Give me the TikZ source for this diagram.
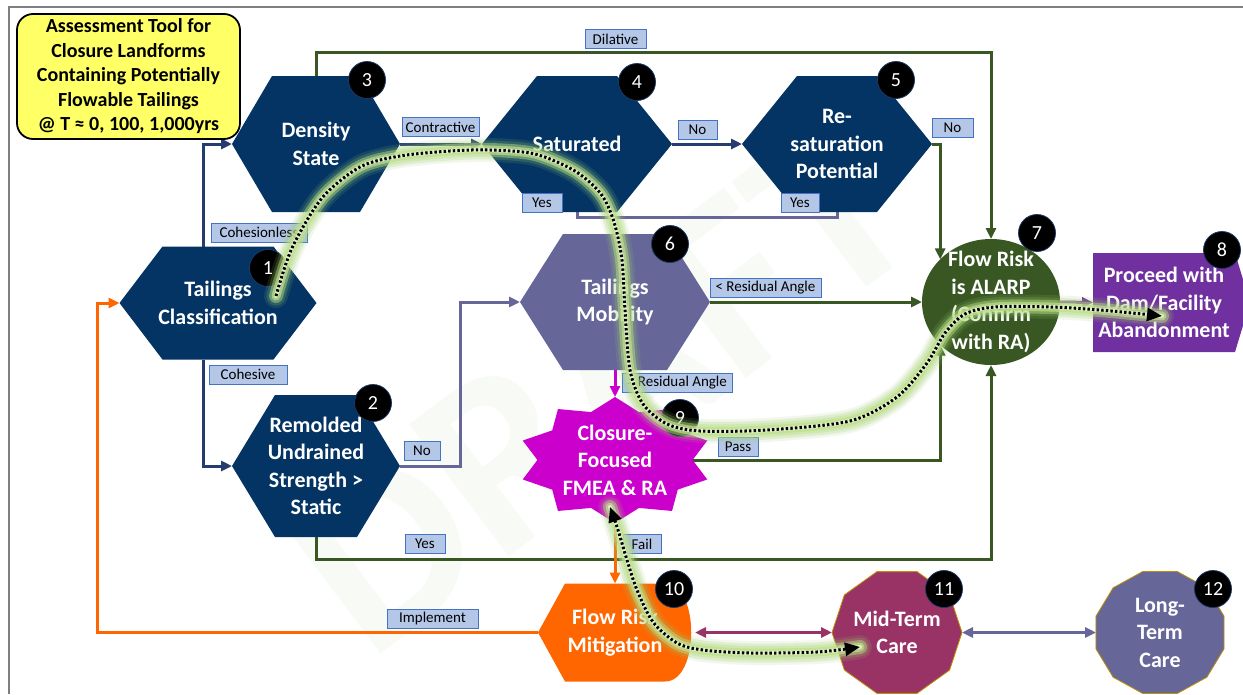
\documentclass[tikz,border=0pt]{standalone}
\usepackage{fontspec}
\setmainfont{Carlito}
\usetikzlibrary{arrows.meta,calc,shapes.geometric}

\definecolor{navyfill}{RGB}{4,52,100}
\definecolor{navyline}{RGB}{38,60,110}
\definecolor{leaf}{RGB}{56,87,35}
\definecolor{slate}{RGB}{102,102,153}
\definecolor{magen}{RGB}{204,0,204}
\definecolor{orng}{RGB}{255,102,0}
\definecolor{plum}{RGB}{112,48,160}
\definecolor{wine}{RGB}{153,51,102}
\definecolor{lblfill}{RGB}{180,199,231}
\definecolor{lbledge}{RGB}{68,114,196}
\definecolor{titlefill}{RGB}{255,255,102}
\definecolor{framegray}{RGB}{127,127,127}
\definecolor{gold}{RGB}{191,144,0}
\definecolor{glowA}{RGB}{150,200,100}
\definecolor{glowB}{RGB}{190,225,140}
\definecolor{glowC}{RGB}{232,245,210}
\definecolor{wmgreen}{RGB}{248,251,245}
\definecolor{badgeedge}{RGB}{31,56,100}

\pgfdeclarelayer{wm}
\pgfdeclarelayer{lines}
\pgfdeclarelayer{shapes}
\pgfdeclarelayer{glow}
\pgfsetlayers{wm,lines,shapes,main,glow}

% hexagon body filling the box of a text node: #1 node, #2 corner inset, #3 colour
\newcommand\hexbody[3]{%
  \fill[#3] (#1.west) -- ([xshift=#2pt]#1.north west) -- ([xshift=-#2pt]#1.north east)
    -- (#1.east) -- ([xshift=-#2pt]#1.south east) -- ([xshift=#2pt]#1.south west) -- cycle;}

\begin{document}
\begin{tikzpicture}[x=1pt, y=-1pt, >={Triangle[length=11pt,width=10pt]},
  every node/.append style={outer sep=0pt},
  nodetxt/.style={rectangle, inner sep=0pt, text=white, align=center,
    font=\fontsize{22}{27.5}\selectfont\bfseries},
  lbl/.style={rectangle, draw=lbledge, fill=lblfill, line width=0.8pt, inner xsep=2pt,
    inner ysep=0pt, minimum height=19pt, text=black, font=\fontsize{15}{17}\selectfont},
  badge/.style={circle, fill=black, draw=badgeedge, line width=0.8pt, minimum size=37pt,
    inner sep=0pt, text=white, font=\fontsize{20}{20}\selectfont},
  conn/.style={line width=3pt, ->},
  navyconn/.style={conn, draw=navyline},
  leafconn/.style={conn, draw=leaf},
  slateconn/.style={conn, draw=slate},
  magconn/.style={conn, draw=magen},
  orconn/.style={conn, draw=orng},
  plumconn/.style={conn, draw=plum},
  wineconn/.style={conn, draw=wine},
  wmark/.style={rotate=37, inner sep=0pt, font=\fontsize{255}{255}\selectfont\bfseries},
  halo/.style={line cap=round, line join=round},
  trail/.style={line width=3pt, black, dash pattern=on 2.4pt off 2.2pt},
  tailtip/.style={-{Triangle[length=15pt,width=13pt]}},
  bothtip/.style={{Triangle[length=15pt,width=13pt]}-{Triangle[length=15pt,width=13pt]}},
]
\useasboundingbox (0,0) rectangle (1243,694);

% paper, watermark and frame
\begin{pgfonlayer}{wm}
  \fill[white] (0,0) rectangle (1243,694);
  \node[wmark, text=wmgreen] (wm) at (600,385) {DRAFT};
  \draw[framegray, line width=2pt] (9,694) -- (9,7) -- (1243,7);
\end{pgfonlayer}

% title
\node[rectangle, rounded corners=16pt, draw=black, line width=1.8pt, fill=titlefill,
  minimum width=223pt, minimum height=125pt, inner sep=0pt, align=center,
  font=\fontsize{20}{24.5}\selectfont\bfseries] (title) at (128.5,76.5)
  {Assessment Tool for\\Closure Landforms\\Containing Potentially\\Flowable Tailings\\@ T ≈ 0, 100, 1,000yrs};

% step texts (their boxes carry the anchors for the connectors)
\node[nodetxt, minimum width=197pt, minimum height=113pt] (n1) at (218,303) {Tailings\\Classification};
\node[nodetxt, minimum width=168pt, minimum height=142pt] (n2) at (316,466) {Remolded\\Undrained\\Strength >\\Static};
\node[nodetxt, minimum width=168pt, minimum height=136pt] (n3) at (316,144) {Density\\State};
\node[nodetxt, minimum width=190pt, minimum height=136pt] (n4) at (577,144) {Saturated};
\node[nodetxt, minimum width=190pt, minimum height=136pt] (n5) at (837,144) {Re-\\saturation\\Potential};
\node[nodetxt, minimum width=190pt, minimum height=136pt] (n6) at (615,302) {Tailings\\Mobility};
\node[ellipse, fill=leaf, minimum width=138pt, minimum height=126pt, inner sep=0pt] (n7) at (991,302) {};
\node[nodetxt] (n7t) at (n7.center) {Flow Risk\\is ALARP\\(Confirm\\with RA)};
\node[nodetxt, minimum width=142pt, minimum height=99pt] (n8) at (1164,302.5) {Proceed with\\Dam/Facility\\Abandonment};
\node[nodetxt, minimum width=194pt, minimum height=126pt] (n9) at (615,460) {Closure-\\Focused\\FMEA \& RA};
\node[nodetxt, minimum width=154pt, minimum height=98pt] (n10) at (615,632.5) {Flow Risk\\Mitigation};
\node[nodetxt, minimum width=130pt, minimum height=122pt] (n11) at (897,632.5) {Mid-Term\\Care};
\node[nodetxt, minimum width=128pt, minimum height=122pt] (n12) at (1160,632.5) {Long-\\Term\\Care};

% step bodies
\begin{pgfonlayer}{shapes}
  \hexbody{n1}{43}{navyfill}
  \hexbody{n2}{43}{navyfill}
  \hexbody{n3}{40}{navyfill}
  \hexbody{n4}{55}{navyfill}
  \hexbody{n5}{55}{navyfill}
  \hexbody{n6}{43}{slate}
  \fill[plum] (n8.north west) -- (n8.north east) -- ([xshift=15pt]n8.east)
    -- (n8.south east) -- (n8.south west) -- cycle;
  \fill[magen, shift={(n9.center)}] (90:97 and 63)
    \foreach \k [evaluate=\k as \rr using {ifthenelse(mod(\k,2)==0,1,0.8)}] in {1,...,19}
      { -- ({90+18*\k}:{97*\rr} and {63*\rr}) } -- cycle;
  \fill[orng] (n10.west) -- ([xshift=27pt]n10.north west) -- ([xshift=-27pt]n10.north east)
    .. controls ([xshift=8pt]n10.north east) and ([xshift=8pt]n10.south east) .. ([xshift=-27pt]n10.south east)
    -- ([xshift=27pt]n10.south west) -- cycle;
  \filldraw[fill=wine, draw=gold, line width=0.8pt, shift={(n11.center)}] (0:65 and 64)
    \foreach \k in {1,...,9}{ -- ({36*\k}:65 and 64) } -- cycle;
  \filldraw[fill=slate, draw=gold, line width=0.8pt, shift={(n12.center)}] (15:66.3 and 63.2)
    \foreach \k in {1,...,11}{ -- ({15+30*\k}:66.3 and 63.2) } -- cycle;
\end{pgfonlayer}

% connectors
\begin{pgfonlayer}{lines}
  \draw[navyconn] ([xshift=-15pt]n1.north) |- (n3.west);
  \draw[navyconn] ([xshift=-15pt]n1.south) |- (n2.west);
  \draw[navyconn] (n3.east) -- (n4.west);
  \draw[navyconn] (n4.east) -- (n5.west);
  \draw[leafconn] (n3.north) -- ++(0,-24) -| (n7.north);
  \draw[leafconn] (n5.east) -| (n7.140);
  \draw[leafconn] (n6.east) -- (n7.west);
  \draw[leafconn] (n9.center) -| (n7.220);
  \draw[leafconn] (n2.south) -- ++(0,22) -| (n7.south);
  \draw[slate, line width=3pt] (n4.south) -- ++(0,5) -| (n5.south);
  \draw[slateconn] (n2.east) -- ++(60,0) |- (n6.west);
  \draw[magconn] (n6.south) -- (n9.north);
  \draw[orconn] (n9.south) -- (n10.north);
  \draw[orconn] (n10.west) -- ++(-441,0) |- (n1.west);
  \draw[plumconn] (n7.east) -- (n8.west);
  \draw[wineconn, <->] ([xshift=3pt]n10.east) -- (n11.west);
  \draw[slateconn, <->] (n11.east) -- (n12.west);
\end{pgfonlayer}

% connector labels
\node[lbl, minimum width=61pt] (lDil) at (615.5,39) {Dilative};
\node[lbl, minimum width=77pt] (lCon) at (440.5,127) {Contractive};
\node[lbl, minimum width=39pt] (lNo4) at (697.5,130) {No};
\node[lbl, minimum width=41pt] (lNo5) at (952.5,128) {No};
\node[lbl, minimum width=40pt] (lYes4) at (542,203) {Yes};
\node[lbl, minimum width=38pt] (lYes5) at (800,203) {Yes};
\node[lbl, minimum width=96pt] (lCohl) at (259,232.5) {Cohesionless};
\node[lbl, minimum width=78pt] (lCoh) at (248,374.5) {Cohesive};
\node[lbl, minimum width=36pt] (lNo2) at (422,451) {No};
\node[lbl, minimum width=111pt] (lLt) at (765.5,287.5) {< Residual Angle};
\node[lbl, minimum width=110pt] (lGt) at (677,382.5) {> Residual Angle};
\node[lbl, minimum width=40pt] (lPass) at (738,446.5) {Pass};
\node[lbl, minimum width=40pt] (lYes2) at (425,544) {Yes};
\node[lbl, minimum width=38pt] (lFail) at (642,544) {Fail};
\node[lbl, minimum width=91pt] (lImp) at (432.5,618.5) {Implement};

% step numbers
\node[badge] (b1) at (268,268) {1};
\node[badge] (b2) at (373,403) {2};
\node[badge] (b3) at (367,80) {3};
\node[badge] (b4) at (637,82) {4};
\node[badge] (b5) at (896,80) {5};
\node[badge] (b6) at (670,244) {6};
\node[badge] (b7) at (1037,233) {7};
\node[badge] (b8) at (1222,250) {8};
\node[badge] (b9) at (680,418) {9};
\node[badge] (b10) at (674,589) {10};
\node[badge] (b11) at (944,589) {11};
\node[badge] (b12) at (1213,589) {12};

% highlighted route through the tool
\begin{pgfonlayer}{glow}
  \foreach \w/\c/\o in {24/glowA/0.13, 19/glowA/0.2, 14/glowB/0.45, 9/glowB/0.7, 4/glowC/0.85}{
    \draw[halo, line width=\w pt, color=\c, opacity=\o] plot[smooth, tension=0.5] coordinates {
      (276,296) (292,248) (322,198) (360,167) (400,156) (450,151) (490,150) (535,154) (575,171)
      (601,194) (614,222) (622,260) (625,310) (630,370) (643,404) (667,424) (700,431) (767,430)
      (850,421) (897,397) (927,363) (945,333) (965,314) (995,307) (1050,307) (1100,310) (1162,316)};
    \draw[halo, line width=\w pt, color=\c, opacity=\o] plot[smooth, tension=0.5] coordinates {
      (610,507) (618,530) (627,560) (637,590) (653,622) (677,643) (703,650) (750,653) (817,652) (860,647)};
  }
  \draw[trail, tailtip] plot[smooth, tension=0.5] coordinates {
      (276,296) (292,248) (322,198) (360,167) (400,156) (450,151) (490,150) (535,154) (575,171)
      (601,194) (614,222) (622,260) (625,310) (630,370) (643,404) (667,424) (700,431) (767,430)
      (850,421) (897,397) (927,363) (945,333) (965,314) (995,307) (1050,307) (1100,310) (1162,316)};
  \draw[trail, bothtip] plot[smooth, tension=0.5] coordinates {
      (610,507) (618,530) (627,560) (637,590) (653,622) (677,643) (703,650) (750,653) (817,652) (860,647)};
\end{pgfonlayer}
\end{tikzpicture}
\end{document}
